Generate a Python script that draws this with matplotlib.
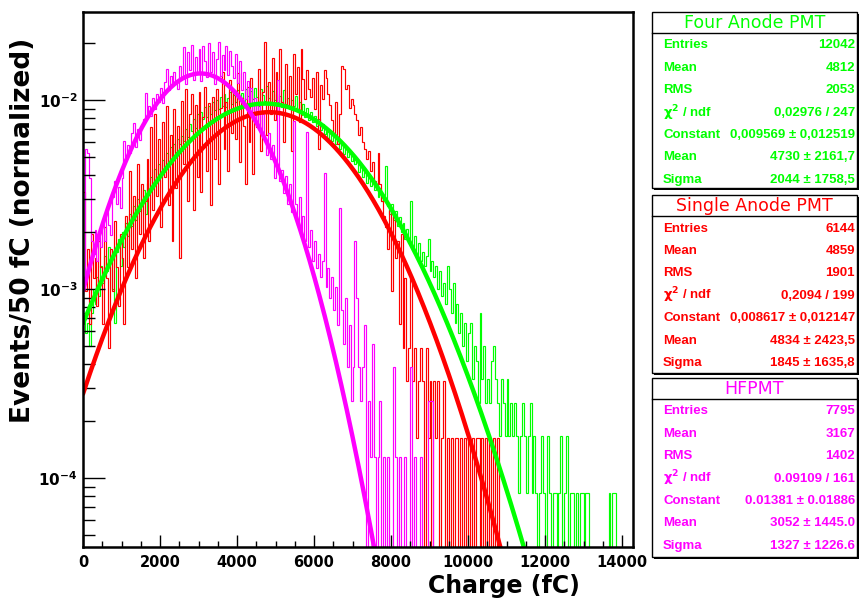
import numpy as np
import matplotlib
matplotlib.use("Agg")
from matplotlib import pyplot as plt
from matplotlib.patches import Rectangle
from matplotlib.lines import Line2D
from matplotlib.ticker import MultipleLocator, LogLocator, FuncFormatter, NullFormatter

plt.rcParams['font.family'] = 'DejaVu Sans'
plt.rcParams['mathtext.fontset'] = 'dejavusans'
plt.rcParams['mathtext.default'] = 'bf'

# histogram binning (fC)
bin_width = 50
n_bins = 286

# counts per 50 fC bin
four_counts = [
    9, 7, 8, 6, 9, 12, 10, 14, 11, 16,
    13, 18, 15, 20, 17, 12, 8, 19, 22, 16,
    24, 20, 27, 23, 30, 26, 33, 28, 36, 31,
    34, 40, 30, 44, 38, 47, 42, 52, 46, 55,
    48, 58, 52, 63, 56, 68, 60, 70, 64, 75,
    70, 78, 73, 85, 77, 90, 82, 95, 86, 101,
    92, 104, 96, 110, 98, 112, 102, 117, 106, 120,
    108, 125, 112, 130, 110, 124, 133, 115, 128, 118,
    136, 120, 131, 114, 138, 126, 118, 134, 122, 140,
    125, 112, 137, 128, 119, 142, 124, 116, 135, 121,
    130, 118, 127, 110, 136, 115, 124, 108, 120, 112,
    126, 105, 117, 100, 114, 98, 109, 94, 104, 92,
    99, 88, 95, 84, 90, 80, 86, 76, 82, 73,
    78, 70, 74, 66, 71, 62, 67, 60, 64, 57,
    61, 55, 58, 50, 54, 47, 52, 44, 49, 42,
    46, 40, 43, 37, 41, 35, 38, 54, 33, 30,
    34, 28, 31, 26, 29, 24, 27, 22, 25, 21,
    35, 20, 23, 18, 21, 17, 19, 16, 18, 22,
    15, 17, 14, 16, 12, 15, 11, 13, 10, 16,
    12, 9, 13, 8, 10, 7, 9, 6, 8, 5,
    7, 8, 4, 6, 5, 3, 9, 4, 6, 3,
    4, 3, 5, 6, 4, 3, 2, 4, 3, 2,
    4, 2, 3, 2, 3, 2, 1, 2, 3, 2,
    1, 2, 3, 1, 2, 1, 0, 1, 2, 1,
    0, 2, 1, 0, 1, 1, 0, 1, 2, 0,
    1, 2, 0, 1, 1, 0, 1, 0, 1, 1,
    0, 1, 1, 0, 0, 0, 0, 0, 0, 0,
    0, 0, 0, 1, 0, 1, 1, 0,
]

single_counts = [
    20, 6, 10, 4, 12, 7, 9, 5, 11, 8,
    4, 13, 7, 3, 10, 6, 14, 8, 5, 12,
    9, 4, 15, 8, 26, 10, 19, 7, 28, 12,
    22, 9, 18, 30, 11, 44, 16, 52, 19, 38,
    13, 47, 24, 57, 17, 40, 11, 55, 21, 45,
    9, 61, 28, 70, 18, 52, 66, 16, 58, 24,
    68, 20, 50, 72, 26, 59, 17, 64, 30, 70,
    22, 56, 86, 34, 60, 26, 78, 41, 69, 38,
    85, 29, 63, 45, 22, 72, 37, 80, 25, 58,
    44, 90, 33, 68, 125, 40, 76, 52, 102, 48,
    86, 53, 114, 60, 37, 95, 58, 82, 33, 108,
    66, 92, 47, 114, 79, 62, 88, 70, 64, 80,
    55, 86, 34, 74, 62, 88, 80, 66, 58, 48,
    40, 60, 36, 52, 93, 90, 70, 74, 56, 62,
    58, 52, 48, 40, 44, 37, 34, 30, 33, 26,
    29, 23, 21, 32, 22, 18, 15, 13, 10, 16,
    6, 15, 9, 11, 4, 12, 3, 7, 2, 3,
    7, 2, 3, 1, 2, 3, 2, 0, 3, 1,
    2, 0, 2, 1, 2, 0, 1, 2, 0, 1,
    0, 1, 0, 1, 1, 0, 1, 0, 1, 0,
    1, 0, 1, 0, 1, 1, 0, 1, 0, 1,
    0, 1, 0, 1, 0, 1,
]

hf_counts = [
    9, 43, 41, 30, 14, 12, 16, 11, 15, 13,
    18, 14, 20, 17, 15, 24, 29, 22, 27, 21,
    30, 47, 39, 45, 41, 52, 59, 44, 55, 48,
    57, 62, 85, 66, 72, 64, 80, 70, 84, 76,
    90, 75, 97, 114, 88, 105, 92, 110, 96, 89,
    118, 102, 148, 95, 140, 112, 152, 100, 131, 108,
    145, 98, 150, 125, 103, 156, 110, 140, 95, 128,
    158, 104, 135, 112, 151, 106, 142, 118, 102, 137,
    96, 125, 88, 110, 79, 98, 72, 90, 64, 80,
    58, 74, 55, 66, 48, 40, 52, 38, 45, 30,
    35, 100, 29, 33, 25, 31, 22, 28, 20, 60,
    22, 17, 24, 15, 19, 14, 53, 13, 16, 11,
    14, 10, 12, 9, 11, 32, 8, 10, 7, 9,
    6, 8, 5, 21, 6, 4, 7, 3, 5, 2,
    3, 14, 7, 3, 2, 3, 5, 0, 2, 1,
    4, 1, 0, 1, 2, 0, 1, 0, 1, 0,
    0, 3, 1, 0, 1, 0, 0, 1, 0, 0,
    3, 0, 1, 0, 0, 1, 0, 0, 0, 2,
    2, 2,
]

# stats boxes
names = ['Four Anode PMT', 'Single Anode PMT', 'HFPMT']
colors = ['#00ff00', '#ff0000', '#ff00ff']
entries = [12042, 6144, 7795]
means = ['4812', '4859', '3167']
rms = ['2053', '1901', '1402']
chi2 = ['0,02976 / 247', '0,2094 / 199', '0.09109 / 161']
const_txt = ['0,009569 \u00b1 0,012519', '0,008617 \u00b1 0,012147', '0.01381 \u00b1 0.01886']
mean_txt = ['4730 \u00b1 2161,7', '4834 \u00b1 2423,5', '3052 \u00b1 1445.0']
sigma_txt = ['2044 \u00b1 1758,5', '1845 \u00b1 1635,8', '1327 \u00b1 1226.6']

# gaussian fit parameters
fit_const = [0.009569, 0.008617, 0.01381]
fit_mean = [4730, 4834, 3052]
fit_sigma = [2044, 1845, 1327]

all_counts = [four_counts, single_counts, hf_counts]

W, H = 861, 601
fig = plt.figure(figsize=(W / 100, H / 100), dpi=100)
ax = fig.add_axes([83 / W, 1 - 547 / H, 550 / W, 535 / H])

edges = np.arange(n_bins + 1) * bin_width
for counts, n, c in zip(all_counts, entries, colors):
    vals = np.zeros(n_bins)
    vals[:len(counts)] = counts
    vals = vals / n
    vals[vals == 0] = 1e-8  # empty bins drop below the frame, like ROOT
    ax.stairs(vals, edges, color=c, lw=0.85, baseline=None)

xs = np.linspace(0, edges[-1], 800)
for k in [1, 0, 2]:
    ys = fit_const[k] * np.exp(-0.5 * ((xs - fit_mean[k]) / fit_sigma[k]) ** 2)
    ax.plot(xs, ys, color=colors[k], lw=3.2, solid_capstyle='round')

ax.set_yscale('log')
ax.set_xlim(0, 14285)
ax.set_ylim(4.31e-5, 0.0292)

ax.xaxis.set_major_locator(MultipleLocator(2000))
ax.xaxis.set_minor_locator(MultipleLocator(500))
ax.yaxis.set_major_locator(LogLocator(base=10, numticks=10))
ax.yaxis.set_minor_locator(LogLocator(base=10, subs=np.arange(2, 10), numticks=20))
ax.yaxis.set_major_formatter(FuncFormatter(lambda v, p: r'$10^{%d}$' % round(np.log10(v))))
ax.yaxis.set_minor_formatter(NullFormatter())

ax.tick_params(axis='x', which='major', direction='in', length=8.5, width=1, pad=6,
               labelsize=10.5, top=False)
ax.tick_params(axis='x', which='minor', direction='in', length=4.5, width=1, top=False)
ax.tick_params(axis='y', which='major', direction='in', length=16, width=1, pad=4,
               labelsize=11, right=False)
ax.tick_params(axis='y', which='minor', direction='in', length=8.5, width=1, right=False)
for lab in ax.get_xticklabels() + ax.get_yticklabels():
    lab.set_fontweight('bold')
for s in ax.spines.values():
    s.set_linewidth(1.8)

ax.set_xlabel('Charge (fC)', fontsize=17, fontweight='bold')
ax.xaxis.set_label_coords(0.904, -0.073)
ax.xaxis.label.set_ha('right')
ax.xaxis.label.set_va('center')
ax.set_ylabel('Events/50 fC (normalized)', fontsize=19, fontweight='bold')
ax.yaxis.set_label_coords(-0.109, 0.591)
ax.yaxis.label.set_va('center')
ax.yaxis.label.set_ha('center')


def fx(x):
    return x / W


def fy(y):
    return 1 - y / H


box_top = [12, 195, 378]
box_bot = [188, 373, 557]
bx0, bx1 = 652, 857
labels = ['Entries', 'Mean', 'RMS', r'$\chi^{2}$ / ndf', 'Constant', 'Mean', 'Sigma']
for k in range(3):
    t, b = box_top[k], box_bot[k]
    fig.add_artist(Rectangle((fx(bx0 + 2), fy(b + 2)), (bx1 - bx0) / W, (b - t) / H,
                             transform=fig.transFigure, facecolor='black', edgecolor='none'))
    fig.add_artist(Rectangle((fx(bx0), fy(b)), (bx1 - bx0) / W, (b - t) / H,
                             transform=fig.transFigure, facecolor='white', edgecolor='black', lw=1))
    fig.add_artist(Line2D([fx(bx0), fx(bx1)], [fy(t + 21), fy(t + 21)],
                          transform=fig.transFigure, color='black', lw=1))
    fig.text(fx((bx0 + bx1) / 2), fy(t + 11), names[k], color=colors[k], fontsize=12.5,
             ha='center', va='center')
    values = [str(entries[k]), means[k], rms[k], chi2[k], const_txt[k], mean_txt[k], sigma_txt[k]]
    for i in range(7):
        yy = fy(t + 33.5 + 22.4 * i)
        fig.text(fx(663), yy, labels[i], color=colors[k], fontsize=9.5, fontweight='bold',
                 family='Liberation Sans', ha='left', va='center')
        fig.text(fx(855), yy, values[i], color=colors[k], fontsize=9.5, fontweight='bold',
                 family='Liberation Sans', ha='right', va='center')

fig.savefig('out.png', dpi=100)
